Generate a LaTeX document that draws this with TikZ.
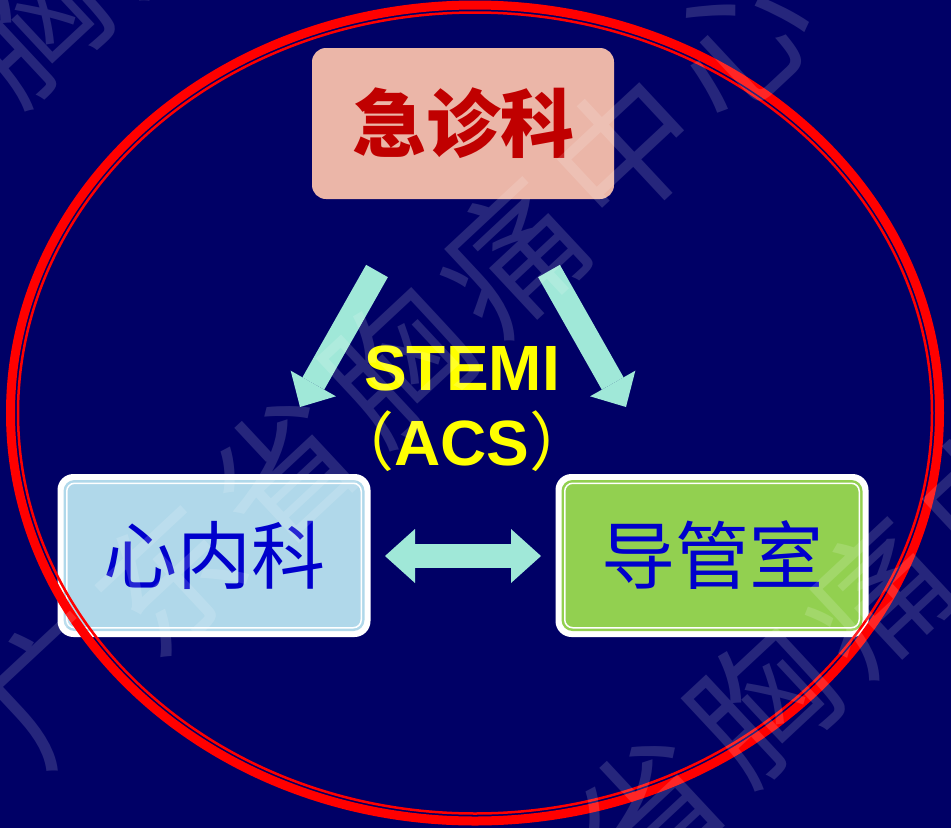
\documentclass[tikz,border=0pt]{standalone}
\usepackage{fontspec}
\newfontfamily\cjksans{Noto Sans CJK SC}
\newfontfamily\arialf{Liberation Sans}
\usetikzlibrary{arrows.meta,calc}
\definecolor{bgnavy}{RGB}{0,0,102}
\definecolor{salmonfill}{RGB}{235,182,168}
\definecolor{darkred}{RGB}{192,0,0}
\definecolor{lightbluefill}{RGB}{176,216,234}
\definecolor{greenfill}{RGB}{146,208,80}
\definecolor{textblue}{RGB}{0,0,204}
\definecolor{aquaarrow}{RGB}{160,232,216}
\definecolor{ylw}{RGB}{255,255,0}
\tikzset{
  topbox/.style={fill=salmonfill, rounded corners=14pt, minimum width=302pt, minimum height=151pt, inner sep=0pt,
    text=darkred, font=\cjksans\bfseries\fontsize{74pt}{80pt}\selectfont},
  cardouter/.style={fill=white, rounded corners=16pt},
  cardbox/.style={fill=#1, draw=white, line width=1.5pt, rounded corners=8pt, minimum width=294.5pt, minimum height=144.5pt,
    inner sep=0pt, text=textblue, font=\cjksans\fontsize{74pt}{80pt}\selectfont},
  blockarrow/.style={draw=aquaarrow, line width=25pt, -{Triangle[length=27pt 0 0, width=52pt 0 0, line width=0pt]}},
  dblarrow/.style={draw=aquaarrow, line width=24pt, {Triangle[length=30pt 0 0, width=54pt 0 0, line width=0pt]}-{Triangle[length=30pt 0 0, width=54pt 0 0, line width=0pt]}},
  ylabel/.style={text=ylw, inner sep=0pt, anchor=base, font=\arialf\bfseries\fontsize{64pt}{70pt}\selectfont},
  wm/.style={text=white, text opacity=0.15, inner sep=0pt, rotate=43, font=\cjksans\fontsize{140pt}{140pt}\selectfont}
}
\begin{document}
\begin{tikzpicture}[x=1pt,y=-1pt]
\useasboundingbox (0,0) rectangle (951,828);
\fill[bgnavy] (0,0) rectangle (951,828);

% top box
\node[topbox] (er) at (463,123.5) {急诊科};

% left card
\coordinate (cnc) at (214,555.5);
\fill[cardouter] ($(cnc)+(-156.5,-81.5)$) rectangle ($(cnc)+(156.5,81.5)$);
\fill[lightbluefill, rounded corners=11pt] ($(cnc)+(-150.5,-75.5)$) rectangle ($(cnc)+(150.5,75.5)$);
\node[cardbox=lightbluefill] (cn) at (cnc) {心内科};

% right card
\coordinate (cac) at (712,555.5);
\fill[cardouter] ($(cac)+(-156.5,-81.5)$) rectangle ($(cac)+(156.5,81.5)$);
\fill[greenfill, rounded corners=11pt] ($(cac)+(-150.5,-75.5)$) rectangle ($(cac)+(150.5,75.5)$);
\node[cardbox=greenfill] (ca) at (cac) {导管室};

% arrows
\coordinate (la1) at (377,271);
\coordinate (la2) at (300,407);
\coordinate (ra1) at (549,271);
\coordinate (ra2) at (626,407);
\coordinate (da1) at (385,556);
\coordinate (da2) at (541,556);
\draw[blockarrow] (la1) -- (la2);
\draw[blockarrow] (ra1) -- (ra2);
\draw[dblarrow] (da1) -- (da2);

% labels
\node[ylabel] (stemi) at (462,390) {STEMI};
\node[ylabel] (acs) at (462,465) {{\cjksans\mdseries （}ACS{\cjksans\mdseries ）}};

% red ellipse
\draw[red, line width=9pt] (475,413) ellipse [x radius=464.5pt, y radius=408pt];
\draw[red, line width=2.5pt] (475,413) ellipse [x radius=457pt, y radius=400.5pt];

% watermark
\foreach \sx/\sy/\ln in {0/0/a, 365/340/b, -365/-340/c}{
  \foreach \ch [count=\k from 0] in {广,东,省,胸,痛,中,心}{
    \node[wm] (w\ln\k) at ($(55+\sx,685+\sy)+\k*(114,-107)$) {\ch};
  }
}
\end{tikzpicture}
\end{document}
